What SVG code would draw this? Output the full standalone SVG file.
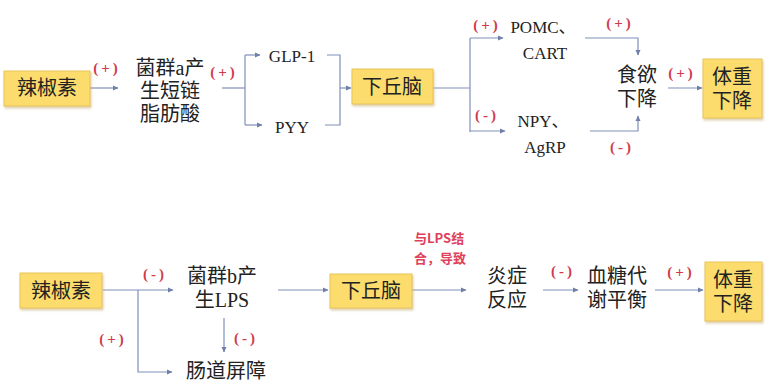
<svg xmlns="http://www.w3.org/2000/svg" width="765" height="387" viewBox="0 0 765 387">
<defs>
<marker id="arr" markerWidth="6" markerHeight="6" refX="5" refY="3" orient="auto" markerUnits="userSpaceOnUse">
<path d="M0,0.5 L5.5,3 L0,5.5 Z" fill="#6f7fa8"/>
</marker>
<filter id="sh" x="-10%" y="-10%" width="130%" height="140%">
<feDropShadow dx="1" dy="2" stdDeviation="1.2" flood-color="#c9b07a" flood-opacity="0.6"/>
</filter>
</defs>
<style>
.box{fill:#fbdc6c;stroke:#eac35d;stroke-width:1;filter:url(#sh)}
.t{font-family:"Liberation Serif","Noto Sans CJK SC",serif;font-size:20px;fill:#222;text-anchor:middle}
.l{font-family:"Liberation Serif","Noto Sans CJK SC",serif;font-size:17px;fill:#222;text-anchor:middle}
.s{font-family:"Liberation Serif",serif;font-size:15px;font-weight:bold;letter-spacing:3px;fill:#d23a4c;text-anchor:middle}
.r{font-family:"Noto Sans CJK SC",sans-serif;font-size:13px;font-weight:bold;fill:#e0405a}
.c{fill:none;stroke:#7f8fb8;stroke-width:1.2}
</style>
<rect width="765" height="387" fill="#ffffff"/>

<g id="connectors">
<path class="c" d="M90,88 H118" marker-end="url(#arr)"/>
<path class="c" d="M222,88 H245"/>
<path class="c" d="M245,55 V125"/>
<path class="c" d="M245,55 H260" marker-end="url(#arr)"/>
<path class="c" d="M245,125 H262" marker-end="url(#arr)"/>
<path class="c" d="M327,55 H340 V125 H325"/>
<path class="c" d="M340,88 H351" marker-end="url(#arr)"/>
<path class="c" d="M433,88 H470"/>
<path class="c" d="M470,38 V132"/>
<path class="c" d="M470,38 H503" marker-end="url(#arr)"/>
<path class="c" d="M470,131 H505" marker-end="url(#arr)"/>
<path class="c" d="M585,38 H638 V55" marker-end="url(#arr)"/>
<path class="c" d="M590,131 H638 V116" marker-end="url(#arr)"/>
<path class="c" d="M668,88 H702" marker-end="url(#arr)"/>
<path class="c" d="M103,290 H173" marker-end="url(#arr)"/>
<path class="c" d="M138,290 V372 H172" marker-end="url(#arr)"/>
<path class="c" d="M224,318 V352" marker-end="url(#arr)"/>
<path class="c" d="M278,290 H328" marker-end="url(#arr)"/>
<path class="c" d="M412,290 H466" marker-end="url(#arr)"/>
<path class="c" d="M543,290 H578" marker-end="url(#arr)"/>
<path class="c" d="M655,290 H703" marker-end="url(#arr)"/>
</g>

<g id="signs">
<text class="s" x="107" y="73">(+)</text>
<text class="s" x="224" y="77">(+)</text>
<text class="s" x="487" y="30">(+)</text>
<text class="s" x="487" y="120">(-)</text>
<text class="s" x="620" y="28">(+)</text>
<text class="s" x="622" y="152">(-)</text>
<text class="s" x="682" y="78">(+)</text>
<text class="s" x="155" y="279">(-)</text>
<text class="s" x="113" y="344">(+)</text>
<text class="s" x="246" y="343">(-)</text>
<text class="s" x="563" y="276">(-)</text>
<text class="s" x="681" y="277">(+)</text>
</g>

<g id="n1"><rect class="box" x="4" y="71" width="86" height="35"/><text class="t" x="47" y="95">辣椒素</text></g>
<g id="n2"><text class="t" x="170" y="75">菌群a产</text><text class="t" x="170" y="98">生短链</text><text class="t" x="170" y="121">脂肪酸</text></g>
<g id="n3"><text class="l" x="292" y="62">GLP-1</text></g>
<g id="n4"><text class="l" x="292" y="133">PYY</text></g>
<g id="n5"><rect class="box" x="352" y="69" width="81" height="35"/><text class="t" x="392" y="94">下丘脑</text></g>
<g id="n6"><text class="l" x="543" y="33">POMC、</text><text class="l" x="545" y="59">CART</text></g>
<g id="n7"><text class="l" x="543" y="127">NPY、</text><text class="l" x="545" y="153">AgRP</text></g>
<g id="n8"><text class="t" x="637" y="82">食欲</text><text class="t" x="637" y="106">下降</text></g>
<g id="n9"><rect class="box" x="703" y="59" width="59" height="59"/><text class="t" x="732" y="84">体重</text><text class="t" x="732" y="108">下降</text></g>

<g id="m1"><rect class="box" x="20" y="273" width="82" height="35"/><text class="t" x="61" y="298">辣椒素</text></g>
<g id="m2"><text class="t" x="222" y="283">菌群b产</text><text class="t" x="222" y="307">生LPS</text></g>
<g id="m3"><text class="t" x="226" y="378">肠道屏障</text></g>
<g id="m4"><rect class="box" x="330" y="274" width="82" height="34"/><text class="t" x="371" y="298">下丘脑</text></g>
<g id="m5"><text class="r" x="414" y="243">与LPS结</text><text class="r" x="414" y="263">合，导致</text></g>
<g id="m6"><text class="t" x="507" y="283">炎症</text><text class="t" x="507" y="307">反应</text></g>
<g id="m7"><text class="t" x="617" y="283">血糖代</text><text class="t" x="617" y="307">谢平衡</text></g>
<g id="m8"><rect class="box" x="705" y="262" width="57" height="59"/><text class="t" x="733" y="287">体重</text><text class="t" x="733" y="311">下降</text></g>
</svg>
